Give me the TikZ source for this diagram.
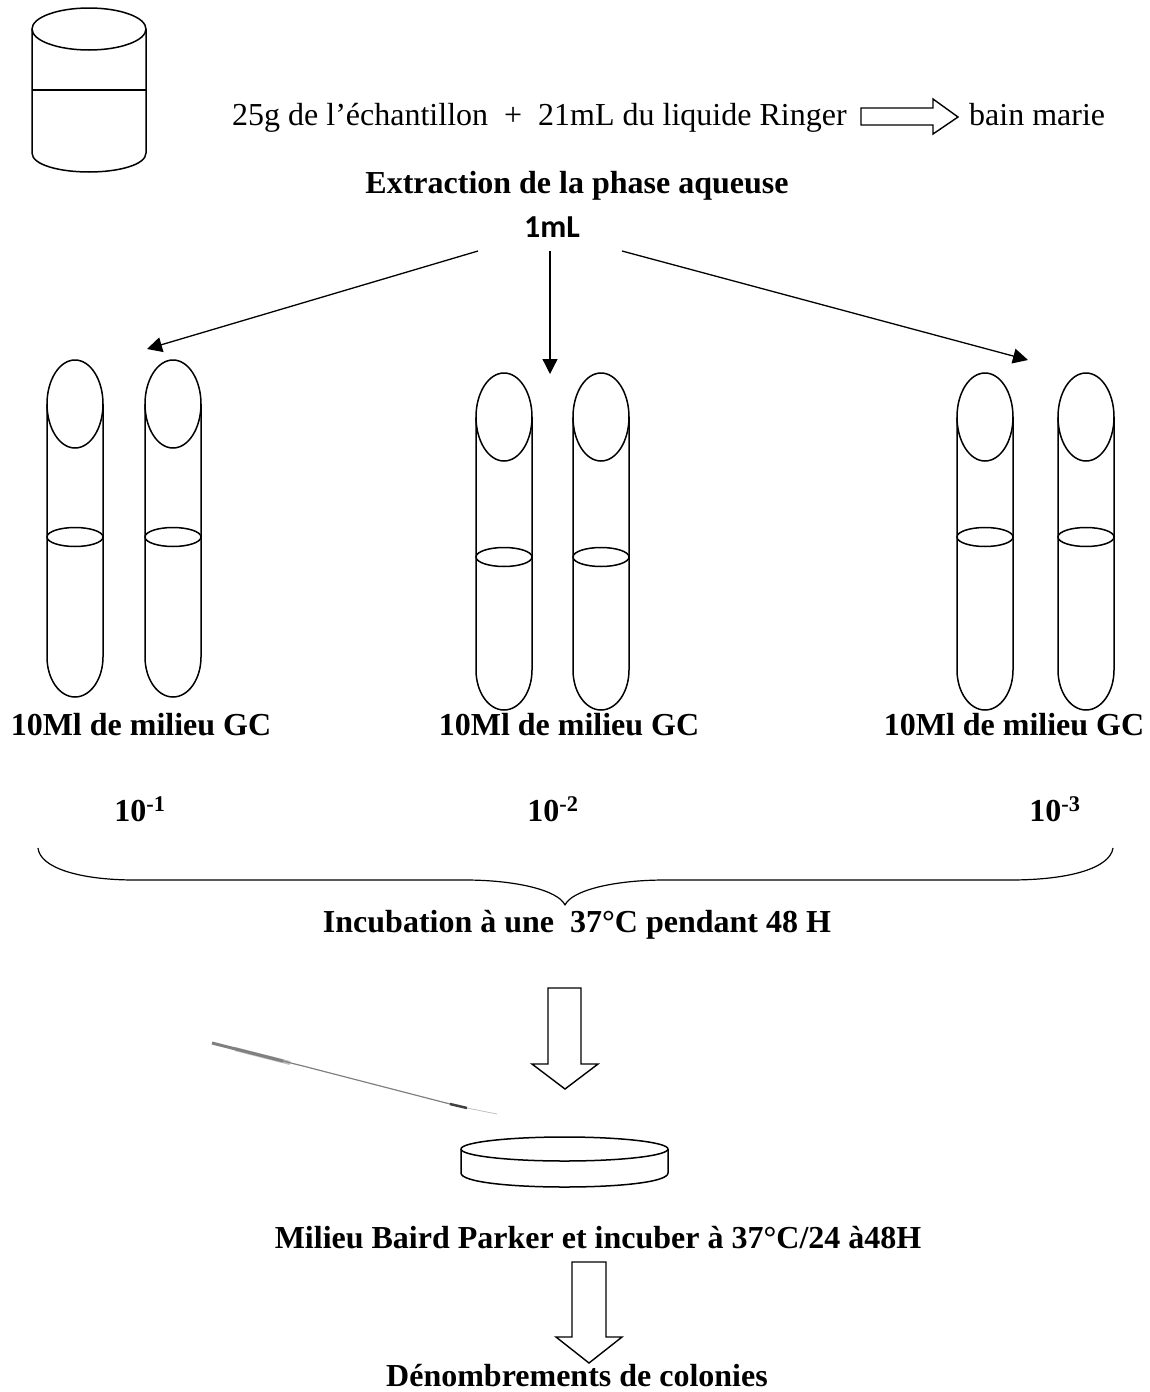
\documentclass[tikz,border=0pt]{standalone}
\usepackage{fontspec}
\setmainfont{Liberation Serif}
\newfontfamily\calibrifont{Carlito}
\usepackage{tikz}
\usetikzlibrary{arrows.meta,positioning}

\begin{document}
\begin{tikzpicture}[
    x=1pt, y=-1pt,
    font=\fontsize{32}{36}\selectfont,
    shape line/.style={draw, line width=1.5pt, line join=round},
    block arrow/.style={draw, line width=1.4pt, line join=miter},
    label/.style={inner sep=0pt, anchor=base},
    title/.style={label, font=\fontsize{32}{36}\selectfont\bfseries},
    thin arrow/.style={-{Triangle[length=15pt,width=15pt]}, line width=1.3pt}
]
\useasboundingbox (0,0) rectangle (1150,1392);

% beaker
\draw[shape line] (89,29) ellipse (57 and 21);
\draw[shape line] (32,29) -- (32,153) .. controls (32,165) and (60,172) .. (89,172) .. controls (118,172) and (146,165) .. (146,153) -- (146,29);
\draw[shape line] (32,90) -- (146,90);

% first line
\node[label, anchor=base west] (sample) at (232,125) {25g de l’échantillon\hspace{8pt} +\hspace{8pt} 21mL du liquide Ringer};
\node[label, anchor=base west] (bath) at (969,125) {bain marie};
\draw[block arrow] (861,108) -- (933,108) -- (933,99) -- (958,117) -- (933,134) -- (933,125) -- (861,125) -- cycle;

\node[title] (extract) at (577,193) {Extraction de la phase aqueuse};
\node[label, font=\fontsize{32}{34}\selectfont\calibrifont\bfseries] (vol) at (552,237) {1mL};

% arrows to the tubes
\coordinate (left start) at (478,251);
\coordinate (mid start) at (550,251);
\coordinate (right start) at (622,251);
\coordinate (left end) at (147,349);
\coordinate (mid end) at (550,374);
\coordinate (right end) at (1028,360);
\draw[thin arrow] (left start) -- (left end);
\draw[thin arrow] (mid start) -- (mid end);
\draw[thin arrow] (right start) -- (right end);

% tubes: centre, top, level
\foreach \cx/\top/\lev in {75/360/537, 173/360/537, 504/373/557, 601/373/557, 985/373/537, 1086/373/537} {
    \draw[shape line] (\cx,\top+44) ellipse (28 and 44);
    \draw[shape line] (\cx-28,\top+44) -- (\cx-28,\top+297) arc[start angle=180, end angle=0, x radius=28, y radius=40] -- (\cx+28,\top+44);
    \draw[shape line] (\cx,\lev) ellipse (28 and 9.5);
}

\node[title] (gc1) at (141,735) {10Ml de milieu GC};
\node[title] (gc2) at (569,735) {10Ml de milieu GC};
\node[title] (gc3) at (1014,735) {10Ml de milieu GC};

\node[title] (dil1) at (140,821) {10\textsuperscript{-1}};
\node[title] (dil2) at (553,821) {10\textsuperscript{-2}};
\node[title] (dil3) at (1055,821) {10\textsuperscript{-3}};

% brace
\draw[shape line, line width=1.2pt] (38,848) .. controls (40,868) and (80,880) .. (135,880) -- (465,880) .. controls (515,880) and (558,890) .. (565,905) .. controls (572,890) and (615,880) .. (665,880) -- (1010,880) .. controls (1070,880) and (1110,868) .. (1113,848);

\node[title] (incub) at (577,932) {Incubation à une~ 37°C pendant 48 H};

\draw[block arrow] (548,988) -- (581,988) -- (581,1064) -- (598,1064) -- (565,1089) -- (532,1064) -- (548,1064) -- cycle;

% loop
\draw[lightgray, line width=4pt] (235,1049) -- (290,1063);
\draw[gray, line width=3pt] (212,1043) -- (283,1061);
\draw[gray, line width=1.2pt] (283,1061) -- (303,1066) -- (450,1104);
\draw[darkgray, line width=2.5pt] (450,1104) -- (467,1108);
\draw[lightgray, line width=0.8pt] (467,1108) -- (497,1114);

% dish
\draw[shape line] (564.5,1149) ellipse (103.5 and 12);
\draw[shape line] (461,1149) -- (461,1173) .. controls (461,1182) and (510,1187) .. (564.5,1187) .. controls (620,1187) and (668,1182) .. (668,1173) -- (668,1149);

\node[title] (baird) at (598,1248) {Milieu Baird Parker et incuber à 37°C/24 à48H};

\draw[block arrow] (572,1262) -- (606,1262) -- (606,1337) -- (622,1337) -- (589,1363) -- (556,1337) -- (572,1337) -- cycle;

\node[title] (count) at (577,1386) {Dénombrements de colonies};
\end{tikzpicture}
\end{document}
